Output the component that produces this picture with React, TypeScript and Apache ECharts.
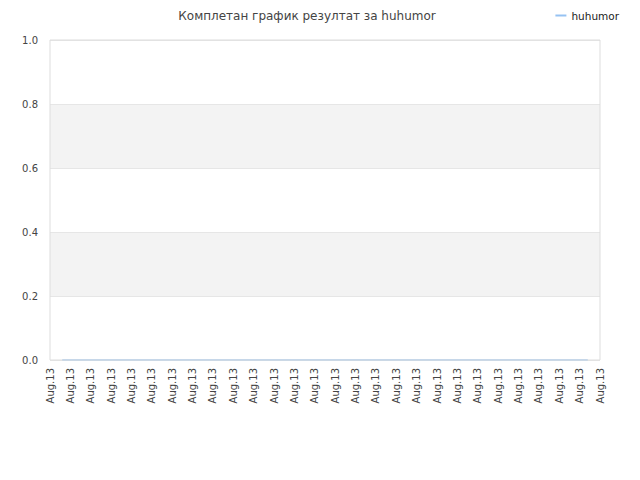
import React, { useEffect, useRef } from "react";
import * as echarts from "echarts";

const TITLE = "Комплетан график резултат за huhumor";
const SERIES_NAME = "huhumor";

// 28 tick labels along the bottom, all the same date
const xTickLabels = Array.from({ length: 28 }, () => "Aug.13");

// the score stays at zero from start to end
const scoreX = [0.6, 26.4];
const scoreY = [0, 0];

const yTicks = [0, 0.2, 0.4, 0.6, 0.8, 1.0];

const FONT = "DejaVu Sans";
const LINE_COLOR = "#96c2f2";

export default function App() {
    const ref = useRef<HTMLDivElement | null>(null);

    useEffect(() => {
        document.body.style.margin = "0";
        if (!ref.current) return;
        const chart = echarts.init(ref.current, undefined, { renderer: "svg" });

        chart.setOption({
            animation: false,
            textStyle: { fontFamily: FONT },
            title: {
                text: TITLE,
                left: 302,
                top: 5,
                textAlign: "center",
                textStyle: { fontFamily: FONT, fontSize: 12, fontWeight: "normal", color: "#444" },
            },
            legend: {
                data: [SERIES_NAME],
                right: 16,
                top: 5,
                itemWidth: 11,
                itemHeight: 2,
                itemGap: 8,
                icon: "rect",
                textStyle: { fontFamily: FONT, fontSize: 10.5, color: "#222" },
            },
            grid: { left: 50, right: 40, top: 40, bottom: 120 },
            xAxis: {
                type: "value",
                min: 0,
                max: xTickLabels.length - 1,
                interval: 1,
                axisLine: { show: false },
                axisTick: { show: false },
                splitLine: { show: false },
                axisLabel: {
                    rotate: 90,
                    fontFamily: FONT,
                    fontSize: 10,
                    color: "#444",
                    margin: 8,
                    showMinLabel: true,
                    showMaxLabel: true,
                    formatter: (v: number) => xTickLabels[Math.round(v)] ?? "",
                },
            },
            yAxis: {
                type: "value",
                min: yTicks[0],
                max: yTicks[yTicks.length - 1],
                interval: 0.2,
                axisLine: { show: false },
                axisTick: { show: false },
                splitLine: { show: true, lineStyle: { color: "#e6e6e6" } },
                splitArea: { show: true, areaStyle: { color: ["#ffffff", "#f3f3f3"] } },
                axisLabel: {
                    fontFamily: FONT,
                    fontSize: 10,
                    color: "#444",
                    margin: 12,
                    formatter: (v: number) => v.toFixed(1),
                },
            },
            graphic: [
                {
                    type: "rect",
                    shape: { x: 50, y: 40, width: 550, height: 320 },
                    style: { fill: "none", stroke: "#dddddd", lineWidth: 1 },
                    silent: true,
                    z: 10,
                },
            ],
            series: [
                {
                    name: SERIES_NAME,
                    type: "line",
                    data: scoreX.map((x, i) => [x, scoreY[i]]),
                    showSymbol: false,
                    color: LINE_COLOR,
                    lineStyle: { color: LINE_COLOR, width: 1.5 },
                    itemStyle: { color: LINE_COLOR },
                },
            ],
        });

        return () => chart.dispose();
    }, []);

    return <div ref={ref} style={{ width: 640, height: 480 }} />;
}
